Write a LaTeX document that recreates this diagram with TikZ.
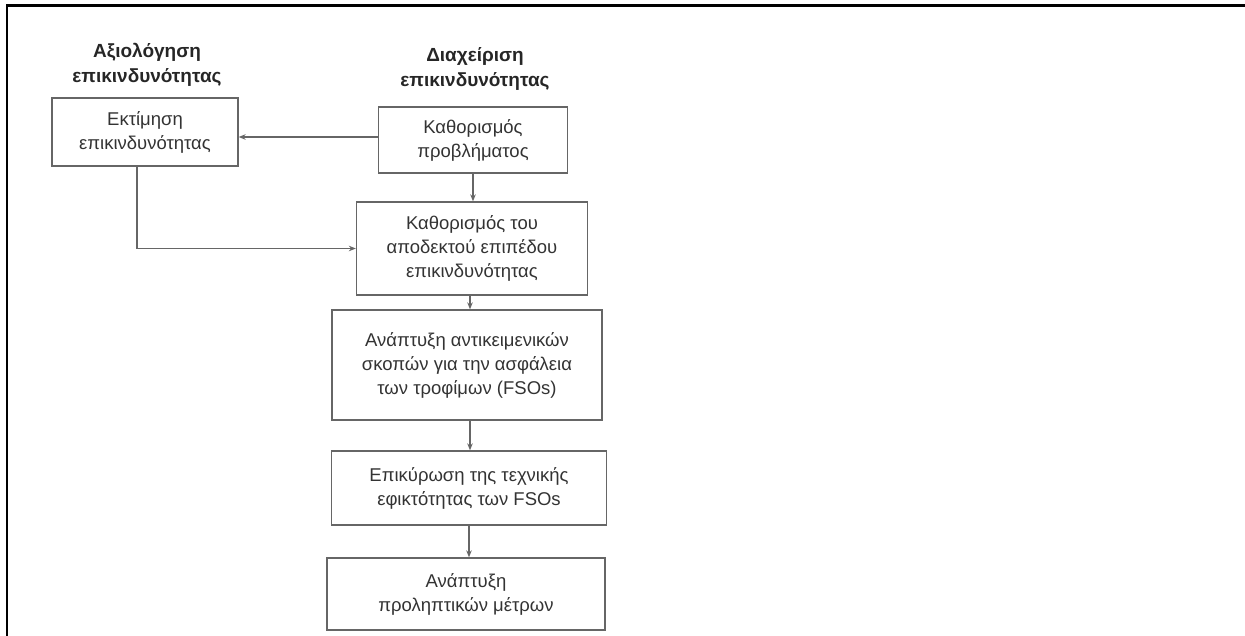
\documentclass[tikz,border=0pt]{standalone}
\usepackage{fontspec}
\setmainfont{Liberation Sans}
\usetikzlibrary{arrows.meta}
\definecolor{boxgrey}{HTML}{666666}
\definecolor{txtgrey}{HTML}{333333}
\definecolor{headgrey}{HTML}{262626}
\begin{document}
\begin{tikzpicture}[x=1pt,y=-1pt,
  box/.style={draw=boxgrey, line width=1.3pt, text=txtgrey,
    font=\fontsize{18.5}{24}\selectfont, align=center, inner sep=0pt},
  head/.style={text=headgrey, font=\fontsize{19}{25}\selectfont\bfseries,
    align=center, inner sep=0pt},
  link/.style={draw=boxgrey, line width=1.2pt,
    -{Stealth[length=7pt,width=5.5pt]}}]
\useasboundingbox (0,0) rectangle (1245,636);
% outer frame (top and left edges)
\draw[line width=2.6pt, line cap=rect] (1245,5.5) -- (7,5.5) -- (7,636);

% column headings
\node[head] (hl) at (147,64.5) {Αξιολόγηση\\επικινδυνότητας};
\node[head] (hr) at (475,68.5) {Διαχείριση\\επικινδυνότητας};

% boxes
\node[box, minimum width=186pt, minimum height=68pt] (est) at (145,132)
  {Εκτίμηση\\επικινδυνότητας};
\node[box, minimum width=189pt, minimum height=66pt] (prob) at (473,140)
  {Καθορισμός\\προβλήματος};
\node[box, minimum width=231pt, minimum height=93pt] (accept) at (472,248.5)
  {Καθορισμός του\\αποδεκτού επιπέδου\\επικινδυνότητας};
\node[box, minimum width=270pt, minimum height=110pt] (fso) at (467,365)
  {Ανάπτυξη αντικειμενικών\\σκοπών για την ασφάλεια\\των τροφίμων (FSOs)};
\node[box, minimum width=275pt, minimum height=74pt] (val) at (469,488)
  {Επικύρωση της τεχνικής\\εφικτότητας των FSOs};
\node[box, minimum width=278pt, minimum height=72pt] (meas) at (466,594)
  {Ανάπτυξη\\προληπτικών μέτρων};

% connectors
\draw[link] ([yshift=3pt]prob.west) -- ([yshift=3pt]prob.west -| est.east);
\draw[link] (prob.south) -- (prob.south |- accept.north);
\draw[link] ([xshift=-8pt]est.south) |- (accept.west);
\draw[link] ([xshift=-2pt]accept.south) -- ([xshift=-2pt]accept.south |- fso.north);
\draw[link] ([xshift=3pt]fso.south) -- ([xshift=3pt]fso.south |- val.north);
\draw[link] (val.south) -- (val.south |- meas.north);
\end{tikzpicture}
\end{document}
